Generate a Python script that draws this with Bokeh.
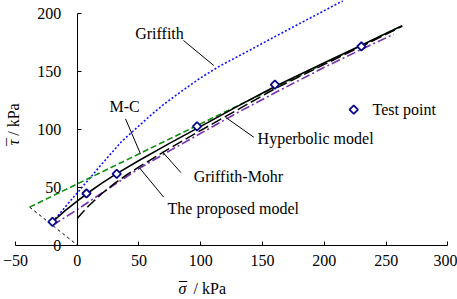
import numpy as np
from bokeh.plotting import figure
from bokeh.models import Range1d, FixedTicker, Label
from bokeh.embed import file_html
from bokeh.resources import INLINE

# ---- data ----
x_ticks = [-50, 0, 50, 100, 150, 200, 250, 300]
y_ticks = [0, 50, 100, 150, 200]

test_sigma = [-20, 7.5, 32, 97, 160, 230]
test_tau = [20, 44.5, 61.5, 102.5, 138.5, 171.5]

griffith_sigma = [-20, -10, 0, 10, 20, 36, 50, 60, 70, 84, 100, 116, 140, 160, 183, 200, 215]
griffith_tau = [20, 32.5, 45, 57.5, 70, 89.5, 103, 112.5, 121.5, 132.5, 144.5, 155, 168.5, 180, 193, 202.5, 211]

mc_sigma = [-38.5, 263]
mc_tau = [32.7, 189.5]

aux_sigma = [-38.5, 0]
aux_tau = [32.7, 0]

proposed_sigma = [-20, -10, 0, 10, 20, 31, 50, 75, 100, 130, 160, 200, 230, 263]
proposed_tau = [20, 29.5, 38, 46, 53.5, 61, 73, 88, 102.5, 120, 137, 157.5, 172.5, 189.5]

gm_sigma = [0, 5, 10, 20, 30, 40, 50, 70, 100, 130, 160, 200, 230, 263]
gm_tau = [23, 29, 34.5, 44.5, 53, 60.5, 67.5, 80.5, 99, 117, 135, 156, 171.5, 189]

hyp_sigma = [-20, 0, 25, 50, 75, 100, 130, 160, 200, 230, 256]
hyp_tau = [17, 30.5, 48.5, 66, 81.5, 96.5, 114.5, 131.5, 153.5, 169, 182]

FONT = "Liberation Serif"
FS = "16px"

p = figure(width=457, height=299, x_range=Range1d(-62.07, 307.76),
           y_range=Range1d(-47.08, 211.23), output_backend="svg",
           toolbar_location=None, min_border=0)
p.outline_line_color = None
p.grid.visible = False
p.background_fill_color = "white"

for ax, ticks, bnds, so in ((p.xaxis, x_ticks, (-50, 300), 10), (p.yaxis, y_ticks, (0, 200), 16)):
    ax.fixed_location = 0
    ax.bounds = bnds
    ax.ticker = FixedTicker(ticks=ticks)
    ax.major_tick_in = 4
    ax.major_tick_out = 0
    ax.minor_tick_in = 0
    ax.minor_tick_out = 0
    ax.axis_line_color = "black"
    ax.major_tick_line_color = "black"
    ax.major_label_text_font = FONT
    ax.major_label_text_font_size = FS
    ax.major_label_text_color = "black"
    ax.major_label_standoff = so

# curves
p.line(griffith_sigma, griffith_tau, line_color="#1010ff", line_width=1.6, line_dash="2 2")
p.line(mc_sigma, mc_tau, line_color="#109010", line_width=1.6, line_dash="6 3")
p.line(aux_sigma, aux_tau, line_color="black", line_width=1, line_dash="3 3")
p.line(hyp_sigma, hyp_tau, line_color="#7a2fb0", line_width=1.6, line_dash="9 3 2 3")
p.line(gm_sigma, gm_tau, line_color="black", line_width=1.5, line_dash="11 4")
p.line(proposed_sigma, proposed_tau, line_color="black", line_width=1.6)

p.scatter(test_sigma, test_tau, marker="square", angle=np.pi / 4, size=6,
          line_color="#0a0a8a", line_width=1.8, fill_color="white")

# annotations
def lab(x, y, t, align="left", style="normal", angle=0.0):
    p.add_layout(Label(x=x, y=y, text=t, text_font=FONT, text_font_size=FS,
                       text_align=align, text_baseline="middle",
                       text_font_style=style, angle=angle, text_color="black"))

lab(66.6, 182.7, "Griffith", align="center")
lab(38.3, 119.7, "M-C", align="center")
lab(146, 92, "Hyperbolic model")
lab(94.3, 59.2, "Griffith-Mohr")
lab(73.1, 31.5, "The proposed model")
lab(239, 117, "Test point")
# x-axis title: sigma with overbar
lab(85.2, -38, "σ", align="center", style="italic")
lab(85.6, -38, "¯", align="center")
lab(94.2, -38, "/ kPa")
# y-axis title: tau with overbar, rotated
lab(-51.5, 108.4, "/ kPa", align="center", angle=np.pi / 2)
lab(-51.5, 88.6, "τ", align="center", style="italic", angle=np.pi / 2)
lab(-51.5, 88.9, "¯", align="center", angle=np.pi / 2)

p.scatter([223.8], [117], marker="square", angle=np.pi / 4, size=6,
          line_color="#0a0a8a", line_width=1.8, fill_color="white")

p.segment(x0=[86.0, 39.1, 142.9, 84.0, 70.0], y0=[176.7, 109.0, 93.1, 62.5, 41.3],
          x1=[110.5, 51.2, 120.0, 69.0, 50.5], y1=[155.1, 78.8, 110.4, 80.5, 66.5],
          line_color="black", line_width=1)

open("out.html", "w").write(file_html(p, INLINE))
